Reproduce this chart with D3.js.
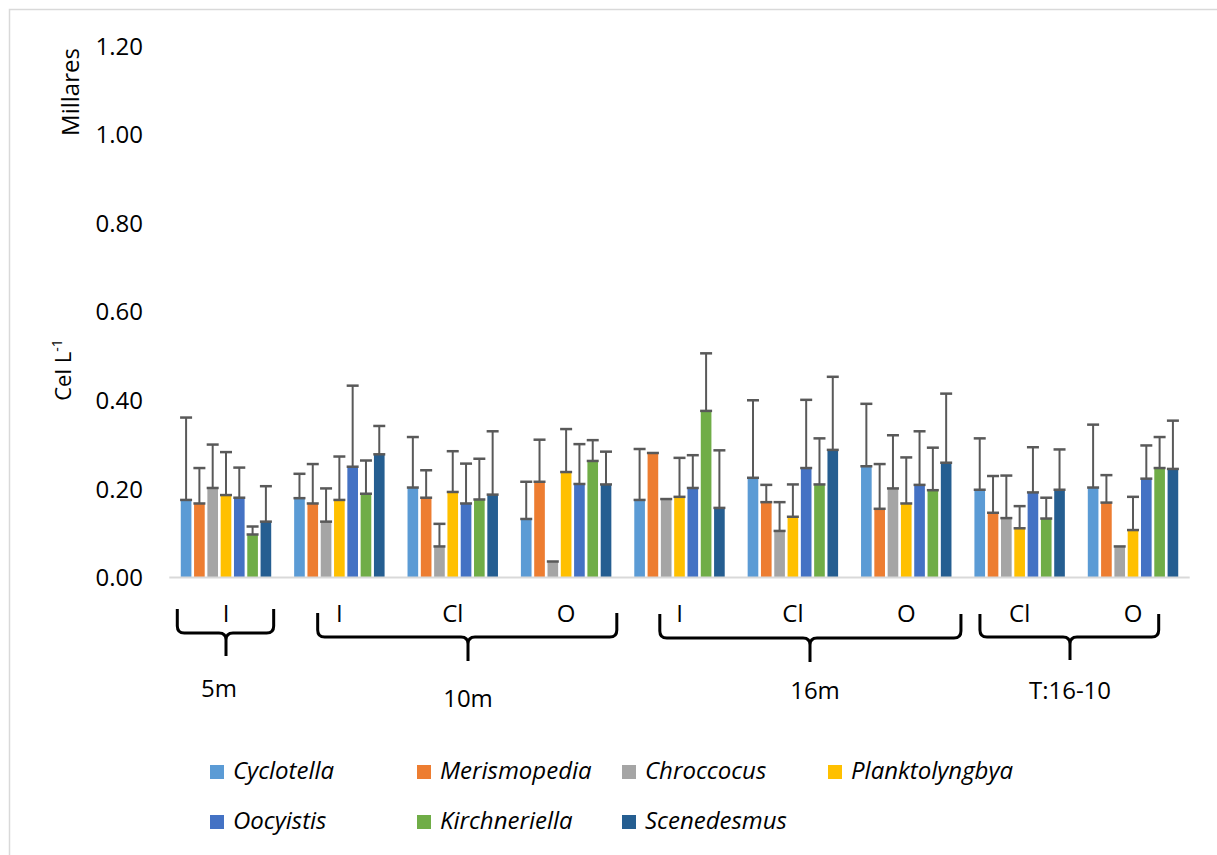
<!DOCTYPE html>
<html>
<head>
<meta charset="utf-8">
<script src="https://cdn.jsdelivr.net/npm/d3@7"></script>
<style>
  html, body { margin: 0; padding: 0; background: #fff; }
  svg { display: block; font-family: "Open Sans", Lato, sans-serif; }
</style>
</head>
<body>
<svg id="chart" width="1217" height="855"></svg>
<script>
// ---------- data ----------
const categories = ["I", "I", "Cl", "O", "I", "Cl", "O", "Cl", "O"];
const seriesNames = ["Cyclotella", "Merismopedia", "Chroccocus", "Planktolyngbya", "Oocyistis", "Kirchneriella", "Scenedesmus"];
const seriesColors = ["#5B9BD5", "#ED7D31", "#A5A5A5", "#FFC000", "#4472C4", "#70AD47", "#255E91"];

const cyclotella     = [0.174, 0.178, 0.202, 0.131, 0.174, 0.224, 0.250, 0.197, 0.202];
const merismopedia   = [0.166, 0.166, 0.179, 0.215, 0.280, 0.169, 0.154, 0.145, 0.168];
const chroccocus     = [0.201, 0.125, 0.069, 0.035, 0.176, 0.104, 0.200, 0.133, 0.069];
const planktolyngbya = [0.185, 0.174, 0.192, 0.237, 0.181, 0.136, 0.166, 0.110, 0.106];
const oocyistis      = [0.179, 0.249, 0.166, 0.210, 0.201, 0.246, 0.208, 0.191, 0.222];
const kirchneriella  = [0.096, 0.188, 0.175, 0.262, 0.375, 0.209, 0.196, 0.132, 0.246];
const scenedesmus    = [0.125, 0.277, 0.186, 0.209, 0.156, 0.287, 0.258, 0.197, 0.244];

const errCyclotella     = [0.186, 0.055, 0.114, 0.084, 0.115, 0.175, 0.141, 0.116, 0.142];
const errMerismopedia   = [0.080, 0.089, 0.062, 0.095, 0.000, 0.039, 0.101, 0.083, 0.062];
const errChroccocus     = [0.098, 0.075, 0.051, 0.000, 0.000, 0.065, 0.120, 0.096, 0.000];
const errPlanktolyngbya = [0.097, 0.098, 0.092, 0.097, 0.088, 0.073, 0.104, 0.050, 0.075];
const errOocyistis      = [0.068, 0.183, 0.090, 0.090, 0.074, 0.154, 0.121, 0.102, 0.075];
const errKirchneriella  = [0.018, 0.075, 0.092, 0.047, 0.130, 0.104, 0.096, 0.047, 0.070];
const errScenedesmus    = [0.080, 0.064, 0.143, 0.074, 0.130, 0.165, 0.156, 0.091, 0.109];

const yTicks = [0, 0.2, 0.4, 0.6, 0.8, 1.0, 1.2];
const depthGroups = [
  { label: "5m",      first: 0, last: 0 },
  { label: "10m",     first: 1, last: 3 },
  { label: "16m",     first: 4, last: 6 },
  { label: "T:16-10", first: 7, last: 8 }
];

const seriesValues = [cyclotella, merismopedia, chroccocus, planktolyngbya, oocyistis, kirchneriella, scenedesmus];
const seriesErrors = [errCyclotella, errMerismopedia, errChroccocus, errPlanktolyngbya, errOocyistis, errKirchneriella, errScenedesmus];

// ---------- layout ----------
const svg = d3.select("#chart");
const plotLeft = 169.3, plotRight = 1189.7, plotTop = 45.5, plotBottom = 577;
const FONT = 24;

// chart border
svg.append("rect").attr("x", 9.5).attr("y", 9.5).attr("width", 1240).attr("height", 880)
  .attr("fill", "none").attr("stroke", "#d9d9d9").attr("stroke-width", 1.5);

const y = d3.scaleLinear().domain([0, 1.2]).range([plotBottom, plotTop]);
const x0 = d3.scaleBand().domain(d3.range(categories.length)).range([plotLeft, plotRight]);
const bw = x0.bandwidth();
const x1 = d3.scaleBand().domain(seriesNames).range([bw / 2 - 46.55, bw / 2 + 46.55]).paddingInner(0.2).paddingOuter(0.1);

// y axis
const yAxis = d3.axisLeft(y).tickValues(yTicks).tickFormat(d3.format(".2f")).tickSize(0).tickPadding(0);
const gy = svg.append("g").attr("transform", "translate(143,0)").call(yAxis);
gy.select(".domain").remove();
gy.selectAll("text").attr("font-family", "'Open Sans', sans-serif").attr("font-size", FONT).attr("fill", "#000").attr("dy", "0.36em");

// axis titles
svg.append("text").attr("transform", "translate(79,92) rotate(-90)").attr("text-anchor", "middle")
  .attr("font-size", FONT).attr("fill", "#000").text("Millares");
const ct = svg.append("text").attr("transform", "translate(71,370) rotate(-90)").attr("text-anchor", "middle")
  .attr("font-size", 22).attr("fill", "#000");
ct.append("tspan").text("Cel L");
ct.append("tspan").attr("font-size", 14).attr("dy", -9).text("-1");

// bars
const groups = svg.append("g").selectAll("g.grp").data(d3.range(categories.length)).join("g")
  .attr("class", "grp").attr("transform", i => `translate(${x0(i)},0)`);

groups.each(function (i) {
  const g = d3.select(this);
  seriesNames.forEach((s, k) => {
    const v = seriesValues[k][i];
    g.append("rect").attr("x", x1(s)).attr("y", y(v)).attr("width", x1.bandwidth())
      .attr("height", y(0) - y(v)).attr("fill", seriesColors[k]);
  });
});

// baseline
svg.append("line").attr("x1", plotLeft).attr("x2", plotRight).attr("y1", plotBottom + 0.5).attr("y2", plotBottom + 0.5)
  .attr("stroke", "#d9d9d9").attr("stroke-width", 2);

// error bars
groups.each(function (i) {
  const g = d3.select(this);
  seriesNames.forEach((s, k) => {
    const v = seriesValues[k][i], e = seriesErrors[k][i];
    const cx = x1(s) + x1.bandwidth() / 2;
    const capW = 6;
    if (e > 0) {
      g.append("line").attr("x1", cx).attr("x2", cx).attr("y1", y(v)).attr("y2", y(v + e))
        .attr("stroke", "#595959").attr("stroke-width", 2);
      g.append("line").attr("x1", cx - capW).attr("x2", cx + capW).attr("y1", y(v + e)).attr("y2", y(v + e))
        .attr("stroke", "#595959").attr("stroke-width", 2.5);
    }
    g.append("line").attr("x1", cx - capW).attr("x2", cx + capW).attr("y1", y(v)).attr("y2", y(v))
      .attr("stroke", "#595959").attr("stroke-width", 2.5);
  });
});

// sub-category labels
svg.append("g").selectAll("text").data(categories).join("text")
  .attr("x", (d, i) => x0(i) + bw / 2).attr("y", 622).attr("text-anchor", "middle")
  .attr("font-size", FONT).attr("fill", "#000").text(d => d);

// braces
const braceLayout = [
  { l: 8, r: 9, c: 226, top: 609, line: 633, tip: 656, lx: 219, ly: 697 },
  { l: 35, r: 6, c: 468, top: 613, line: 637, tip: 661, lx: 468, ly: 707 },
  { l: 37, r: 2, c: 810, top: 614, line: 638, tip: 662, lx: 815, ly: 699 },
  { l: 17, r: 31, c: 1070, top: 614, line: 637, tip: 660, lx: 1070, ly: 699 }
];
depthGroups.forEach((dg, j) => {
  const L = braceLayout[j];
  const xl = x0(dg.first) + L.l, xr = x0(dg.last) + bw - L.r, xc = L.c;
  const r = 7;
  const p = d3.path();
  p.moveTo(xl, L.top);
  p.lineTo(xl, L.line - r);
  p.quadraticCurveTo(xl, L.line, xl + r, L.line);
  p.lineTo(xc - r, L.line);
  p.quadraticCurveTo(xc, L.line, xc, L.line + r);
  p.lineTo(xc, L.tip);
  p.moveTo(xr, L.top);
  p.lineTo(xr, L.line - r);
  p.quadraticCurveTo(xr, L.line, xr - r, L.line);
  p.lineTo(xc + r, L.line);
  p.quadraticCurveTo(xc, L.line, xc, L.line + r);
  svg.append("path").attr("d", p.toString()).attr("fill", "none").attr("stroke", "#000").attr("stroke-width", 3);
  svg.append("text").attr("x", L.lx).attr("y", L.ly).attr("text-anchor", "middle")
    .attr("font-size", FONT).attr("fill", "#000").text(dg.label);
});

// legend
const legendPos = [[210, 771], [417, 771], [622, 771], [828, 771], [210, 821], [417, 821], [622, 821]];
seriesNames.forEach((s, k) => {
  const [lx, ly] = legendPos[k];
  svg.append("rect").attr("x", lx).attr("y", ly - 6).attr("width", 14).attr("height", 14).attr("fill", seriesColors[k]);
  svg.append("text").attr("x", lx + 23).attr("y", ly + 8).attr("font-size", FONT).attr("font-style", "italic")
    .attr("fill", "#000").text(s);
});
</script>
</body>
</html>
